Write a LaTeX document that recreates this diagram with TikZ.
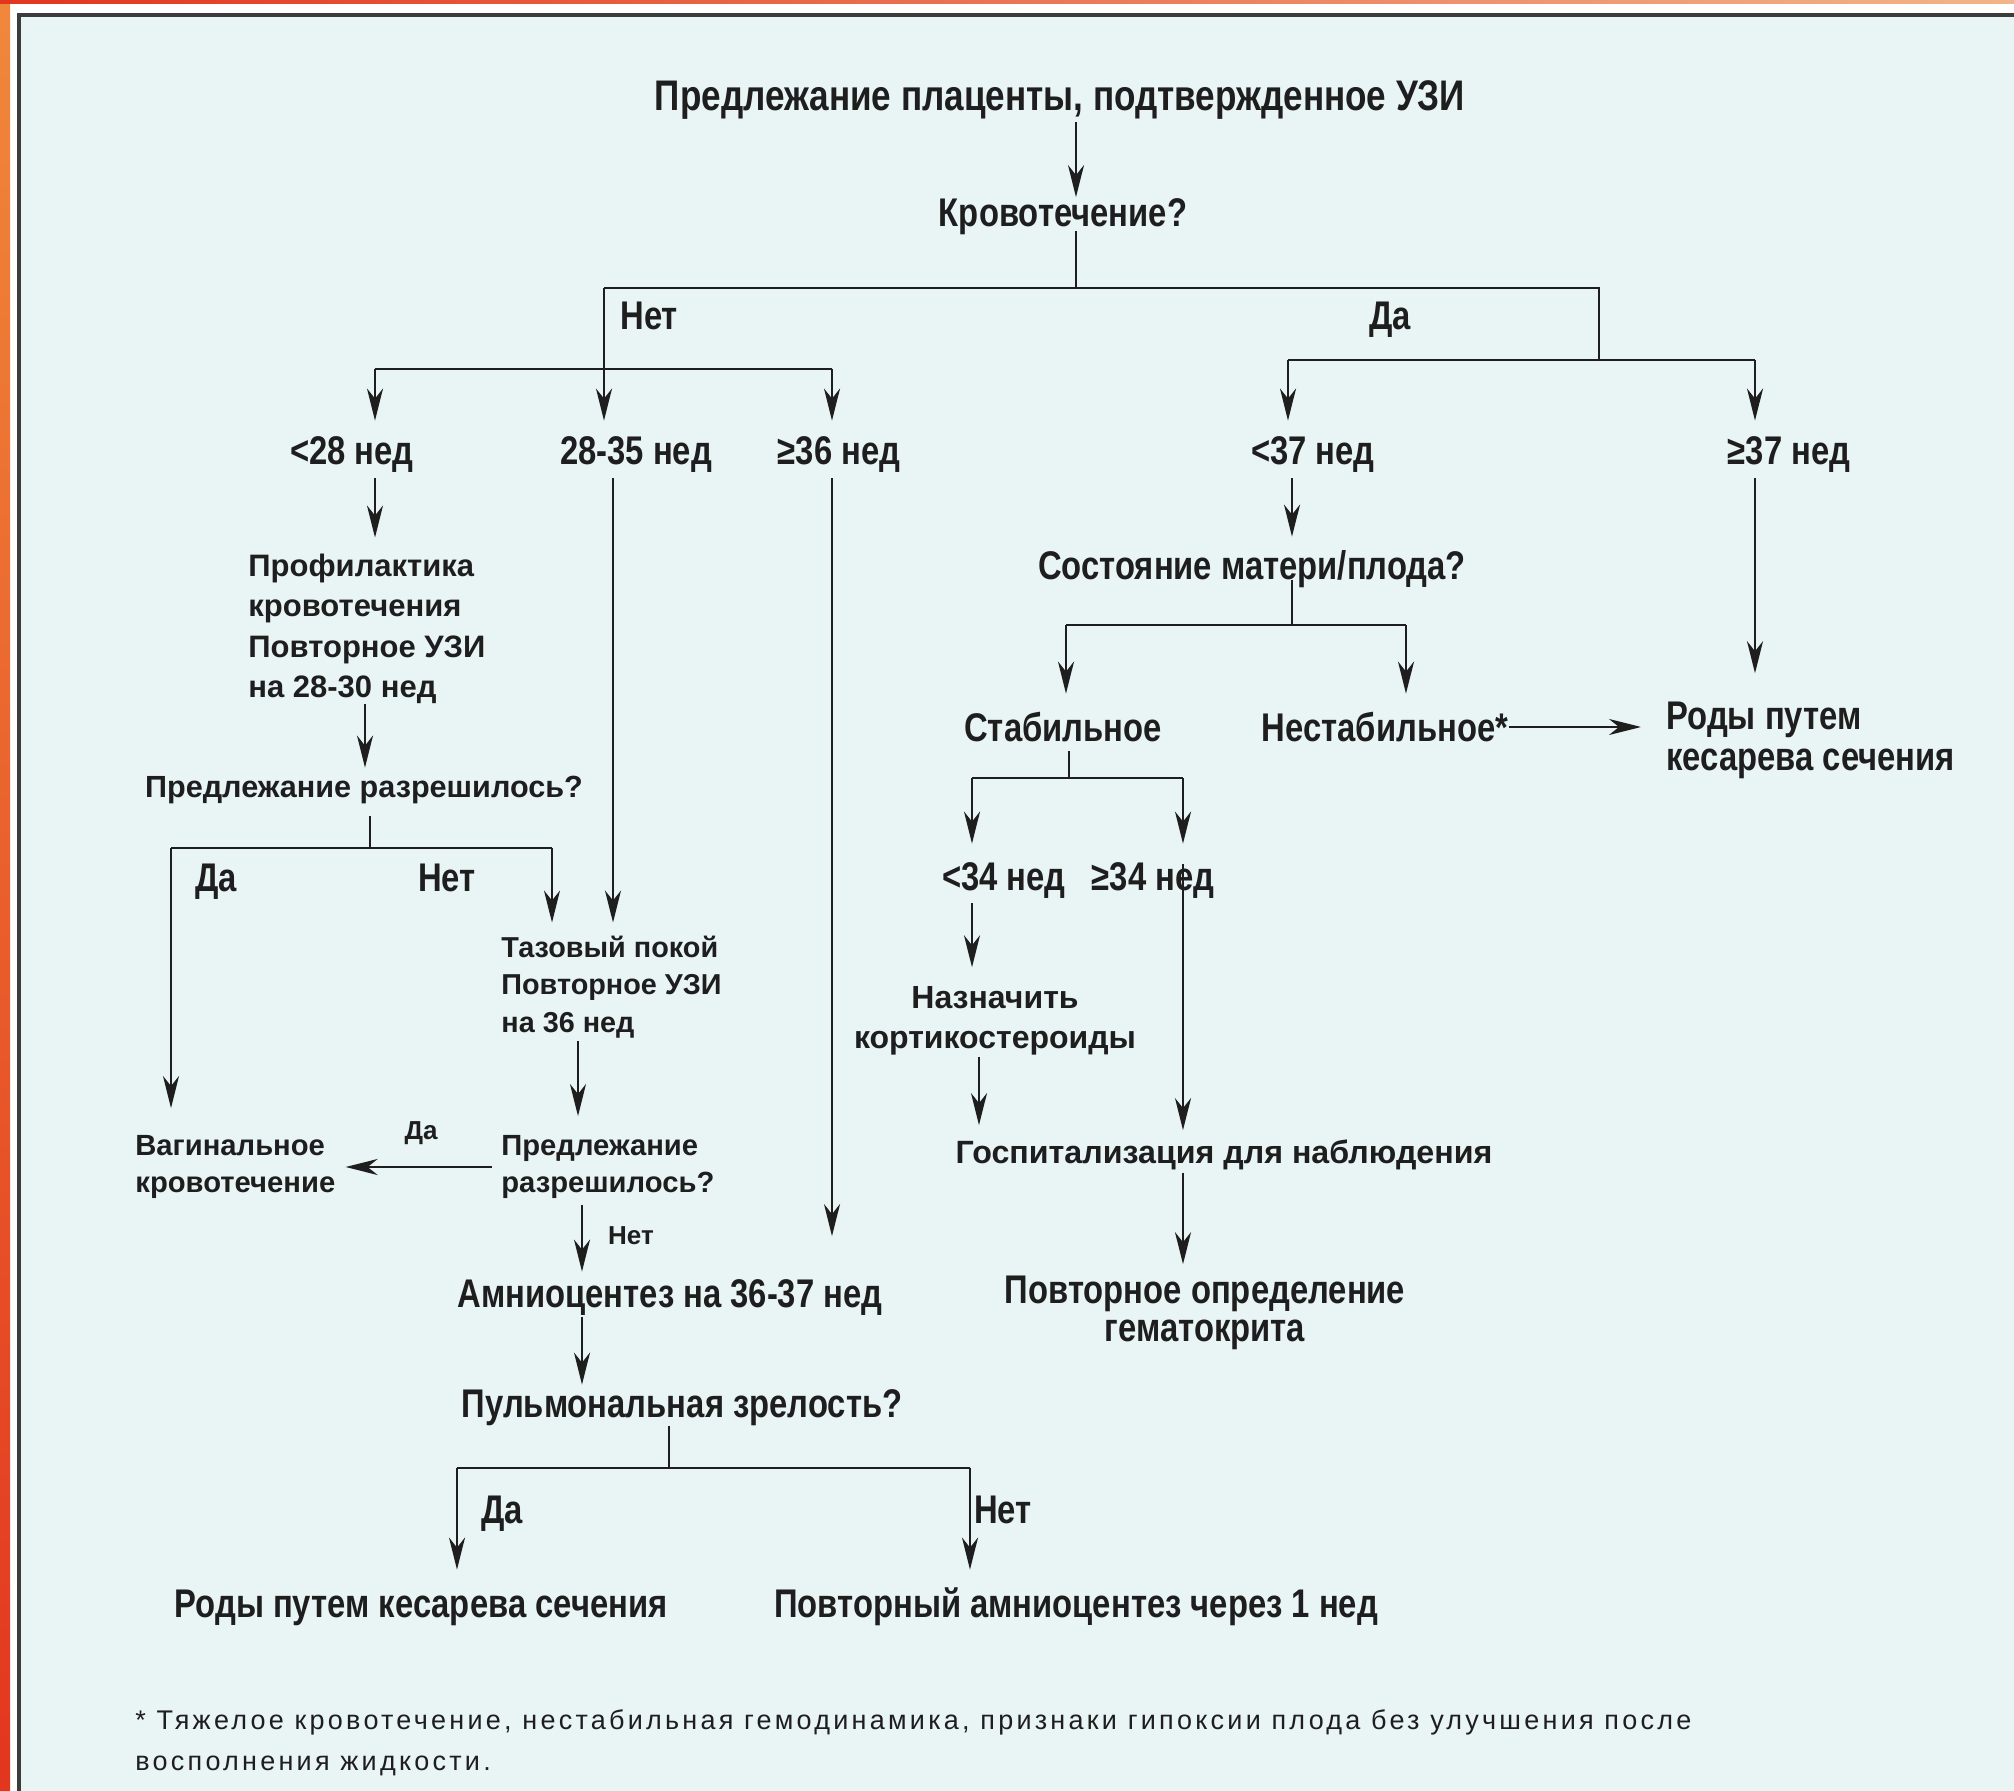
\documentclass[tikz,border=0pt]{standalone}
\usepackage{fontspec}
\setmainfont{Liberation Sans}
\newfontfamily\condf{Liberation Sans}[FakeStretch=0.82]
\newfontfamily\widef{Liberation Sans}
\newfontfamily\notef{Liberation Sans}[LetterSpace=12]
\usetikzlibrary{arrows.meta}
\definecolor{bgc}{HTML}{E9F4F4}
\definecolor{ink}{HTML}{1E1E1E}
\definecolor{frameline}{HTML}{3C3C3C}
\definecolor{redA}{HTML}{E2361F}
\definecolor{redB}{HTML}{F0883A}
\definecolor{redC}{HTML}{F2B48A}
\begin{document}
\begin{tikzpicture}[x=0.5pt,y=-0.5pt,
  cond/.style={inner sep=0, text=ink, font={\condf\bfseries\fontsize{20}{24}\selectfont}, text height=14.5pt, text depth=0pt},
  condm/.style={inner sep=0, text=ink, font={\condf\bfseries\fontsize{20}{#1}\selectfont}, align=left},
  condm/.default=20.5,
  wide/.style={inner sep=0, text=ink, font={\widef\bfseries\fontsize{#1}{20}\selectfont}, text height=11.5pt, text depth=0pt},
  wide/.default=16,
  widem/.style 2 args={inner sep=0, text=ink, font={\widef\bfseries\fontsize{#1}{#2}\selectfont}, align=left},
  small/.style={inner sep=0, text=ink, font={\widef\bfseries\fontsize{13}{16}\selectfont}},
  note/.style={inner sep=0, text=ink, font={\notef\fontsize{13.5}{20.5}\selectfont}, align=left},
  ln/.style={draw=ink, line width=1.3pt},
  arr/.style={ln, -{Stealth[length=16pt,width=8pt,inset=5pt]}}
]
% background and frame
\useasboundingbox (0,0) rectangle (2014,1791);
\fill[white] (0,0) rectangle (2014,1791);
\shade[top color=redB, bottom color=redA] (0,0) rectangle (10,1791);
\shade[left color=redA, right color=redC] (0,0) rectangle (2014,4);
\fill[bgc] (19,15) rectangle (2014,1791);
\draw[frameline, line width=2pt] (19,1791) -- (19,15) -- (2014,15);

% nodes
\node[cond, font={\condf\bfseries\fontsize{21.4}{24}\selectfont}] (title) at (1060,96) {Предлежание плаценты, подтвержденное УЗИ};
\node[cond] (bleed) at (1063,212) {Кровотечение?};
\node[cond, anchor=west] (lnet1) at (620,315) {Нет};
\node[cond, anchor=west] (lda1) at (1369,315) {Да};
\node[cond] (lt28) at (352,450) {<28 нед};
\node[cond] (w2835) at (636,450) {28-35 нед};
\node[cond] (ge36) at (839,450) {≥36 нед};
\node[cond] (lt37) at (1313,450) {<37 нед};
\node[cond] (ge37) at (1789,450) {≥37 нед};

\node[widem={15.5}{20.25}, anchor=west] (prof) at (248,629) {Профилактика\\кровотечения\\Повторное УЗИ\\на 28-30 нед};
\node[wide=15.3] (pr1) at (364,786) {Предлежание разрешилось?};
\node[cond] (lda2) at (216,877) {Да};
\node[cond] (lnet2) at (447,877) {Нет};
\node[widem={14.4}{18.75}, anchor=west] (taz) at (501,987) {Тазовый покой\\Повторное УЗИ\\на 36 нед};
\node[widem={14.6}{18.5}, anchor=west] (pr2) at (501,1167) {Предлежание\\разрешилось?};
\node[widem={14.6}{18.5}, anchor=west] (vag) at (135,1167) {Вагинальное\\кровотечение};
\node[small] (lda3) at (421,1133) {Да};
\node[small] (lnet3) at (631,1236) {Нет};
\node[cond] (amnio) at (670,1293) {Амниоцентез на 36-37 нед};
\node[cond] (pulm) at (682,1403) {Пульмональная зрелость?};
\node[cond] (lda4) at (502,1509) {Да};
\node[cond] (lnet4) at (1003,1509) {Нет};
\node[cond] (cs1) at (421,1603) {Роды путем кесарева сечения};
\node[cond] (rep) at (1076,1603) {Повторный амниоцентез через 1 нед};

\node[cond] (state) at (1252,565) {Состояние матери/плода?};
\node[cond] (stab) at (1063,727) {Стабильное};
\node[cond] (unst) at (1385,727) {Нестабильное*};
\node[condm=20.5, anchor=west] (cs2) at (1666,740) {Роды путем\\кесарева сечения};
\node[cond] (lt34) at (1004,876) {<34 нед};
\node[cond] (ge34) at (1153,876) {≥34 нед};
\node[widem={16}{20}, align=center] (cort) at (995,1021) {Назначить\\кортикостероиды};
\node[wide=16.1] (hosp) at (1224,1152) {Госпитализация для наблюдения};
\node[condm=19, align=center] (hct) at (1205,1313) {Повторное определение\\гематокрита};

\node[note, anchor=west] (fn) at (135,1743) {* Тяжелое кровотечение, нестабильная гемодинамика, признаки гипоксии плода без улучшения после\\восполнения жидкости.};

% junctions and columns
\coordinate (j0) at (1076,288);
\coordinate (jN) at (604,288);
\coordinate (jD) at (1599,288);
\coordinate (jD2) at (1599,360);
\coordinate (jDL) at (1288,360);
\coordinate (jDR) at (1755,360);
\coordinate (jNL) at (375,369);
\coordinate (jNR) at (832,369);
\coordinate (c375) at (375,0);
\coordinate (c365) at (365,0);
\coordinate (jP1) at (370,848);
\coordinate (jP1L) at (171,848);
\coordinate (jP1R) at (552,848);
\coordinate (c613) at (613,0);
\coordinate (c578) at (578,0);
\coordinate (c582) at (582,0);
\coordinate (jPu) at (669,1468);
\coordinate (jPuL) at (457,1468);
\coordinate (jPuR) at (970,1468);
\coordinate (c1292) at (1292,0);
\coordinate (jS) at (1292,625);
\coordinate (jSL) at (1066,625);
\coordinate (jSR) at (1406,625);
\coordinate (jT) at (1069,778);
\coordinate (jTL) at (972,778);
\coordinate (jTR) at (1183,778);
\coordinate (c979) at (979,0);

% connectors: top
\draw[arr, shorten <=5.75pt] (title.south -| j0) -- (bleed.north -| j0);
\draw[ln, shorten <=2.25pt] (bleed.south -| j0) -- (j0);
\draw[ln] (jN) -- (jD) -- (jD2);
\draw[arr, shorten >=7.25pt] (jN) -- (w2835.north -| jN);
\draw[ln] (jNL) -- (jNR);
\draw[arr, shorten >=7.25pt] (jNL) -- (lt28.north -| jNL);
\draw[arr, shorten >=7.25pt] (jNR) -- (ge36.north -| jNR);
\draw[ln] (jDL) -- (jDR);
\draw[arr, shorten >=7.25pt] (jDL) -- (lt37.north -| jDL);
\draw[arr, shorten >=7.25pt] (jDR) -- (ge37.north -| jDR);

% left column
\draw[arr, shorten <=6.75pt, shorten >=8pt] (lt28.south -| c375) -- (prof.north -| c375);
\draw[arr, shorten >=3.25pt] (prof.south -| c365) -- (pr1.north -| c365);
\draw[ln, shorten <=9.25pt] (pr1.south -| jP1) -- (jP1);
\draw[ln] (jP1L) -- (jP1R);
\draw[arr, shorten >=13.5pt] (jP1L) -- (vag.north -| jP1L);
\draw[arr, shorten >=6.5pt] (jP1R) -- (taz.north -| jP1R);
\draw[arr, shorten <=6.75pt, shorten >=6.5pt] (w2835.south -| c613) -- (taz.north -| c613);
\draw[arr, shorten <=1.5pt, shorten >=9.5pt] (taz.south -| c578) -- (pr2.north -| c578);
\draw[arr, shorten <=4.5pt, shorten >=5pt] (pr2.west) -- (vag.east);
\draw[arr, shorten <=3pt, shorten >=3.25pt] (pr2.south -| c582) -- (amnio.north -| c582);
\draw[arr, shorten <=6.75pt, shorten >=21pt] (ge36.south -| jNR) -- (amnio.north -| jNR);
\draw[arr, shorten <=4.75pt, shorten >=1.75pt] (amnio.south -| c582) -- (pulm.north -| c582);
\draw[ln, shorten <=4.25pt] (pulm.south -| jPu) -- (jPu);
\draw[ln] (jPuL) -- (jPuR);
\draw[arr, shorten >=9.25pt] (jPuL) -- (cs1.north -| jPuL);
\draw[arr, shorten >=9.25pt] (jPuR) -- (rep.north -| jPuR);

% right column
\draw[arr, shorten <=6.75pt, shorten >=6.75pt] (lt37.south -| c1292) -- (state.north -| c1292);
\draw[ln] (state.south -| jS) -- (jS);
\draw[ln] (jSL) -- (jSR);
\draw[arr, shorten >=9.25pt] (jSL) -- (stab.north -| jSL);
\draw[arr, shorten >=9.25pt] (jSR) -- (unst.north -| jSR);
\draw[arr, shorten >=12.5pt] (unst.east) -- (cs2.west |- unst.east);
\draw[arr, shorten <=6.75pt, shorten >=14pt] (ge37.south -| jDR) -- (cs2.north -| jDR);
\draw[ln, shorten <=4.75pt] (stab.south -| jT) -- (jT);
\draw[ln] (jTL) -- (jTR);
\draw[arr, shorten >=8.75pt] (jTL) -- (lt34.north -| jTL);
\draw[arr, shorten >=8.75pt] (jTR) -- (ge34.north -| jTR);
\draw[arr, shorten <=6.25pt, shorten >=9.5pt] (lt34.south -| jTL) -- (cort.north -| jTL);
\draw[arr, shorten <=0.75pt, shorten >=7.5pt] (cort.south -| c979) -- (hosp.north -| c979);
\draw[arr, shorten <=-6pt, shorten >=5pt] (ge34.center -| jTR) -- (hosp.north -| jTR);
\draw[arr, shorten <=4.5pt, shorten >=5.75pt] (hosp.south -| jTR) -- (hct.north -| jTR);
\end{tikzpicture}
\end{document}
